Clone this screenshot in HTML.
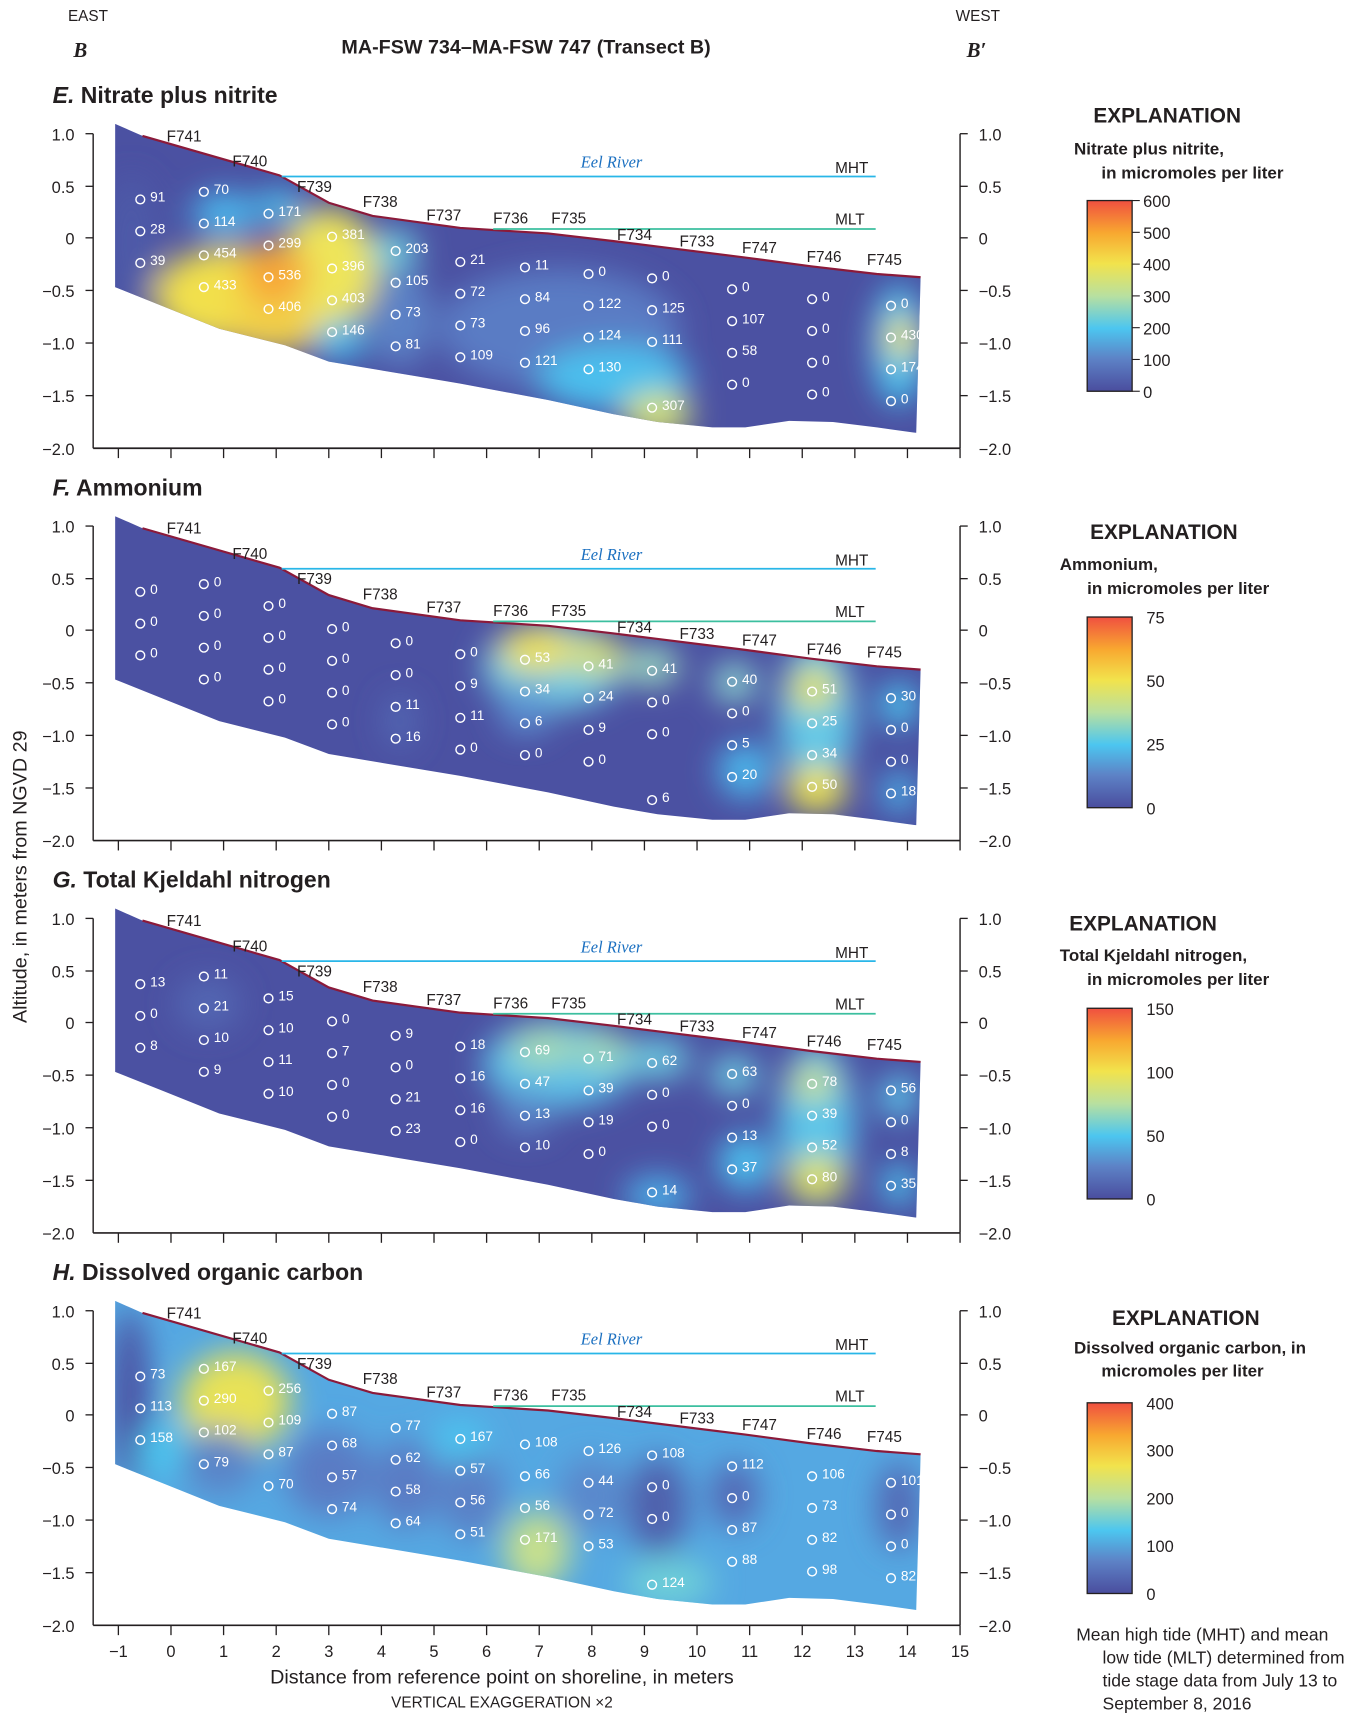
<!DOCTYPE html>
<html><head><meta charset="utf-8"><style>
html,body{margin:0;padding:0;background:#fff}
svg{display:block}
text{font-family:"Liberation Sans Narrow","Liberation Sans",sans-serif;fill:#231f20}
.t{font-size:14px}
.pt text{font-size:12.5px;fill:#fff}
.ttl{font-size:21px;font-weight:bold}
.ax{font-size:15px}
.exp{font-size:19px;font-weight:bold}
.sub{font-size:15.5px;font-weight:bold}
</style></head><body>
<svg width="1359" height="1718" viewBox="0 0 1240 1567.6" xmlns="http://www.w3.org/2000/svg">
<defs>
<clipPath id="cp"><polygon points="105,113 130,124 255,160 300,185 340,197 420,208 500,213 560,220 600,225 680,235 740,243 800,250 840,253 836,395 800,390 760,385 720,384 680,390 650,390 600,385 560,378 500,365 420,350 360,340 300,330 260,315 200,300 150,280 105,262"/></clipPath>
<filter id="bl" x="-50%" y="-50%" width="200%" height="200%"><feGaussianBlur stdDeviation="14"/></filter>
<linearGradient id="cb6" x1="0" y1="1" x2="0" y2="0">
<stop offset="0" stop-color="#4a4d9e"/><stop offset="0.17" stop-color="#5d82c6"/><stop offset="0.33" stop-color="#4cc6f0"/><stop offset="0.5" stop-color="#b8e0a0"/><stop offset="0.67" stop-color="#f2e34c"/><stop offset="0.83" stop-color="#f8a830"/><stop offset="1" stop-color="#f05040"/></linearGradient>
<g id="frame">
<line x1="85" y1="122" x2="85" y2="409" stroke="#231f20" stroke-width="1.3"/>
<line x1="876" y1="122" x2="876" y2="409" stroke="#231f20" stroke-width="1.3"/>
<line x1="85" y1="409" x2="876" y2="409" stroke="#231f20" stroke-width="1.5"/>
<g stroke="#231f20" stroke-width="1.2">
<line x1="78" y1="122" x2="85" y2="122"/><line x1="78" y1="170" x2="85" y2="170"/><line x1="78" y1="217" x2="85" y2="217"/><line x1="78" y1="265" x2="85" y2="265"/><line x1="78" y1="313" x2="85" y2="313"/><line x1="78" y1="361" x2="85" y2="361"/>
<line x1="876" y1="122" x2="883" y2="122"/><line x1="876" y1="170" x2="883" y2="170"/><line x1="876" y1="217" x2="883" y2="217"/><line x1="876" y1="265" x2="883" y2="265"/><line x1="876" y1="313" x2="883" y2="313"/><line x1="876" y1="361" x2="883" y2="361"/>
<line x1="108" y1="409" x2="108" y2="418"/><line x1="156" y1="409" x2="156" y2="418"/><line x1="204" y1="409" x2="204" y2="418"/><line x1="252" y1="409" x2="252" y2="418"/><line x1="300" y1="409" x2="300" y2="418"/><line x1="348" y1="409" x2="348" y2="418"/><line x1="396" y1="409" x2="396" y2="418"/><line x1="444" y1="409" x2="444" y2="418"/><line x1="492" y1="409" x2="492" y2="418"/><line x1="540" y1="409" x2="540" y2="418"/><line x1="588" y1="409" x2="588" y2="418"/><line x1="636" y1="409" x2="636" y2="418"/><line x1="684" y1="409" x2="684" y2="418"/><line x1="732" y1="409" x2="732" y2="418"/><line x1="780" y1="409" x2="780" y2="418"/><line x1="828" y1="409" x2="828" y2="418"/><line x1="876" y1="409" x2="876" y2="418"/>
</g>
<g class="ax" text-anchor="end">
<text x="68" y="128">1.0</text><text x="68" y="176">0.5</text><text x="68" y="223">0</text><text x="68" y="271">−0.5</text><text x="68" y="319">−1.0</text><text x="68" y="367">−1.5</text><text x="68" y="415">−2.0</text></g>
<g class="ax">
<text x="893" y="128">1.0</text><text x="893" y="176">0.5</text><text x="893" y="223">0</text><text x="893" y="271">−0.5</text><text x="893" y="319">−1.0</text><text x="893" y="367">−1.5</text><text x="893" y="415">−2.0</text></g>
</g>
<g id="over">
<polyline points="130,124 255,160 300,185 340,197 420,208 500,213 560,220 600,225 680,235 740,243 800,250 840,253" fill="none" stroke="#8b1a3a" stroke-width="2"/>
<line x1="257" y1="161" x2="799" y2="161" stroke="#29b6e8" stroke-width="1.6"/>
<line x1="450" y1="209" x2="799" y2="209" stroke="#3cbf9f" stroke-width="1.6"/>
<text x="558" y="153" text-anchor="middle" style="font-family:'Liberation Serif',serif;font-style:italic;font-size:15px;fill:#1a6fc0">Eel River</text>
<g class="t"><text x="762" y="158">MHT</text><text x="762" y="205">MLT</text>
<text x="152" y="129">F741</text><text x="212" y="152">F740</text><text x="271" y="175">F739</text><text x="331" y="189">F738</text><text x="389" y="201">F737</text><text x="450" y="204">F736</text><text x="503" y="204">F735</text><text x="563" y="219">F734</text><text x="620" y="225">F733</text><text x="677" y="231">F747</text><text x="736" y="239">F746</text><text x="791" y="242">F745</text></g>
<g fill="none" stroke="#fff" stroke-width="1.3">
<circle cx="128" cy="182" r="4"/><circle cx="128" cy="211" r="4"/><circle cx="128" cy="240" r="4"/>
<circle cx="186" cy="175" r="4"/><circle cx="186" cy="204" r="4"/><circle cx="186" cy="233" r="4"/><circle cx="186" cy="262" r="4"/>
<circle cx="245" cy="195" r="4"/><circle cx="245" cy="224" r="4"/><circle cx="245" cy="253" r="4"/><circle cx="245" cy="282" r="4"/>
<circle cx="303" cy="216" r="4"/><circle cx="303" cy="245" r="4"/><circle cx="303" cy="274" r="4"/><circle cx="303" cy="303" r="4"/>
<circle cx="361" cy="229" r="4"/><circle cx="361" cy="258" r="4"/><circle cx="361" cy="287" r="4"/><circle cx="361" cy="316" r="4"/>
<circle cx="420" cy="239" r="4"/><circle cx="420" cy="268" r="4"/><circle cx="420" cy="297" r="4"/><circle cx="420" cy="326" r="4"/>
<circle cx="479" cy="244" r="4"/><circle cx="479" cy="273" r="4"/><circle cx="479" cy="302" r="4"/><circle cx="479" cy="331" r="4"/>
<circle cx="537" cy="250" r="4"/><circle cx="537" cy="279" r="4"/><circle cx="537" cy="308" r="4"/><circle cx="537" cy="337" r="4"/>
<circle cx="595" cy="254" r="4"/><circle cx="595" cy="283" r="4"/><circle cx="595" cy="312" r="4"/><circle cx="595" cy="372" r="4"/>
<circle cx="668" cy="264" r="4"/><circle cx="668" cy="293" r="4"/><circle cx="668" cy="322" r="4"/><circle cx="668" cy="351" r="4"/>
<circle cx="741" cy="273" r="4"/><circle cx="741" cy="302" r="4"/><circle cx="741" cy="331" r="4"/><circle cx="741" cy="360" r="4"/>
<circle cx="813" cy="279" r="4"/><circle cx="813" cy="308" r="4"/><circle cx="813" cy="337" r="4"/><circle cx="813" cy="366" r="4"/>
</g>
</g>
</defs>

<!-- header -->
<text x="62" y="19" class="t" font-size="15">EAST</text>
<text x="872" y="19" class="t" font-size="15">WEST</text>
<text x="67" y="52" style="font-family:'Liberation Serif',serif;font-style:italic;font-weight:bold;font-size:19px">B</text>
<text x="882" y="52" style="font-family:'Liberation Serif',serif;font-style:italic;font-weight:bold;font-size:19px">B′</text>
<text x="480" y="49" text-anchor="middle" style="font-weight:bold;font-size:18px">MA-FSW 734–MA-FSW 747 (Transect B)</text>
<text transform="translate(24,800) rotate(-90)" text-anchor="middle" style="font-size:18px">Altitude, in meters from NGVD 29</text>

<!-- Panel E -->
<g>
<text x="48" y="94" class="ttl"><tspan font-style="italic">E.</tspan> Nitrate plus nitrite</text>
<g clip-path="url(#cp)">
<rect x="90" y="100" width="760" height="310" fill="#4b51a2"/>
<g filter="url(#bl)">
<ellipse cx="120" cy="220" rx="25" ry="60" fill="#4e5aa8"/>
<ellipse cx="205" cy="195" rx="30" ry="20" fill="#4cb8ec"/>
<ellipse cx="210" cy="270" rx="70" ry="45" fill="#f2e04c"/>
<ellipse cx="300" cy="245" rx="45" ry="55" fill="#eee55a"/>
<ellipse cx="250" cy="250" rx="32" ry="28" fill="#f7a638"/>
<ellipse cx="250" cy="300" rx="50" ry="22" fill="#f2d04a"/>
<ellipse cx="255" cy="188" rx="22" ry="14" fill="#4cc6f0"/>
<ellipse cx="360" cy="228" rx="22" ry="18" fill="#6fd0e0"/>
<ellipse cx="310" cy="310" rx="22" ry="18" fill="#4cc6f0"/>
<ellipse cx="365" cy="290" rx="30" ry="45" fill="#5b82c6"/>
<ellipse cx="510" cy="300" rx="110" ry="55" fill="#5a7cc4"/>
<ellipse cx="560" cy="345" rx="70" ry="30" fill="#4cc0ee"/>
<ellipse cx="600" cy="378" rx="32" ry="20" fill="#d6e374"/>
<ellipse cx="820" cy="315" rx="24" ry="55" fill="#4cc6f0"/>
<ellipse cx="822" cy="308" rx="14" ry="20" fill="#f2e34c"/>
</g></g>
<use href="#over"/>
<use href="#frame"/>
<g class="pt">
<text x="137" y="184">91</text><text x="137" y="213">28</text><text x="137" y="242">39</text>
<text x="195" y="177">70</text><text x="195" y="206">114</text><text x="195" y="235">454</text><text x="195" y="264">433</text>
<text x="254" y="197">171</text><text x="254" y="226">299</text><text x="254" y="255">536</text><text x="254" y="284">406</text>
<text x="312" y="218">381</text><text x="312" y="247">396</text><text x="312" y="276">403</text><text x="312" y="305">146</text>
<text x="370" y="231">203</text><text x="370" y="260">105</text><text x="370" y="289">73</text><text x="370" y="318">81</text>
<text x="429" y="241">21</text><text x="429" y="270">72</text><text x="429" y="299">73</text><text x="429" y="328">109</text>
<text x="488" y="246">11</text><text x="488" y="275">84</text><text x="488" y="304">96</text><text x="488" y="333">121</text>
<text x="546" y="252">0</text><text x="546" y="281">122</text><text x="546" y="310">124</text><text x="546" y="339">130</text>
<text x="604" y="256">0</text><text x="604" y="285">125</text><text x="604" y="314">111</text><text x="604" y="374">307</text>
<text x="677" y="266">0</text><text x="677" y="295">107</text><text x="677" y="324">58</text><text x="677" y="353">0</text>
<text x="750" y="275">0</text><text x="750" y="304">0</text><text x="750" y="333">0</text><text x="750" y="362">0</text>
<text x="822" y="281">0</text><text x="822" y="310">430</text><text x="822" y="339">174</text><text x="822" y="368">0</text>
</g>
</g>

<!-- Panel F -->
<g transform="translate(0,358)">
<text x="48" y="94" class="ttl"><tspan font-style="italic">F.</tspan> Ammonium</text>
<g clip-path="url(#cp)">
<rect x="90" y="100" width="760" height="310" fill="#4b51a2"/>
<g filter="url(#bl)">
<ellipse cx="365" cy="300" rx="15" ry="25" fill="#5368b4"/>
<ellipse cx="505" cy="250" rx="65" ry="40" fill="#6fcbe4"/>
<ellipse cx="490" cy="235" rx="35" ry="20" fill="#f0e24e"/>
<ellipse cx="545" cy="240" rx="25" ry="18" fill="#d8e070"/>
<ellipse cx="595" cy="250" rx="25" ry="18" fill="#9ad8c0"/>
<ellipse cx="480" cy="290" rx="25" ry="22" fill="#5b90d0"/>
<ellipse cx="670" cy="265" rx="20" ry="18" fill="#8dd8d0"/>
<ellipse cx="680" cy="345" rx="25" ry="25" fill="#4cb8ec"/>
<ellipse cx="745" cy="295" rx="35" ry="70" fill="#60c8e8"/>
<ellipse cx="742" cy="270" rx="22" ry="20" fill="#e4e25a"/>
<ellipse cx="745" cy="362" rx="28" ry="22" fill="#eee34e"/>
<ellipse cx="820" cy="285" rx="18" ry="20" fill="#4cc6f0"/>
<ellipse cx="820" cy="365" rx="16" ry="18" fill="#4cb8ec"/>
</g></g>
<use href="#over"/>
<use href="#frame"/>
<g class="pt">
<text x="137" y="184">0</text><text x="137" y="213">0</text><text x="137" y="242">0</text>
<text x="195" y="177">0</text><text x="195" y="206">0</text><text x="195" y="235">0</text><text x="195" y="264">0</text>
<text x="254" y="197">0</text><text x="254" y="226">0</text><text x="254" y="255">0</text><text x="254" y="284">0</text>
<text x="312" y="218">0</text><text x="312" y="247">0</text><text x="312" y="276">0</text><text x="312" y="305">0</text>
<text x="370" y="231">0</text><text x="370" y="260">0</text><text x="370" y="289">11</text><text x="370" y="318">16</text>
<text x="429" y="241">0</text><text x="429" y="270">9</text><text x="429" y="299">11</text><text x="429" y="328">0</text>
<text x="488" y="246">53</text><text x="488" y="275">34</text><text x="488" y="304">6</text><text x="488" y="333">0</text>
<text x="546" y="252">41</text><text x="546" y="281">24</text><text x="546" y="310">9</text><text x="546" y="339">0</text>
<text x="604" y="256">41</text><text x="604" y="285">0</text><text x="604" y="314">0</text><text x="604" y="374">6</text>
<text x="677" y="266">40</text><text x="677" y="295">0</text><text x="677" y="324">5</text><text x="677" y="353">20</text>
<text x="750" y="275">51</text><text x="750" y="304">25</text><text x="750" y="333">34</text><text x="750" y="362">50</text>
<text x="822" y="281">30</text><text x="822" y="310">0</text><text x="822" y="339">0</text><text x="822" y="368">18</text>
</g>
</g>

<!-- Panel G -->
<g transform="translate(0,716)">
<text x="48" y="94" class="ttl"><tspan font-style="italic">G.</tspan> Total Kjeldahl nitrogen</text>
<g clip-path="url(#cp)">
<rect x="90" y="100" width="760" height="310" fill="#4b51a2"/>
<g filter="url(#bl)">
<ellipse cx="190" cy="200" rx="30" ry="25" fill="#5366b2"/>
<ellipse cx="510" cy="255" rx="70" ry="40" fill="#5cc0e8"/>
<ellipse cx="495" cy="240" rx="30" ry="18" fill="#a8dcb0"/>
<ellipse cx="550" cy="242" rx="25" ry="18" fill="#a0dab8"/>
<ellipse cx="600" cy="250" rx="30" ry="18" fill="#6ccce0"/>
<ellipse cx="480" cy="300" rx="25" ry="20" fill="#5a82c6"/>
<ellipse cx="670" cy="265" rx="22" ry="18" fill="#6ccce0"/>
<ellipse cx="680" cy="345" rx="25" ry="25" fill="#4cc0ee"/>
<ellipse cx="600" cy="375" rx="30" ry="18" fill="#4cb0e8"/>
<ellipse cx="745" cy="310" rx="35" ry="75" fill="#58c4ea"/>
<ellipse cx="742" cy="272" rx="22" ry="18" fill="#c8e090"/>
<ellipse cx="745" cy="360" rx="28" ry="22" fill="#dfe260"/>
<ellipse cx="820" cy="285" rx="18" ry="20" fill="#5cc6ea"/>
<ellipse cx="820" cy="365" rx="16" ry="18" fill="#4cc6f0"/>
</g></g>
<use href="#over"/>
<use href="#frame"/>
<g class="pt">
<text x="137" y="184">13</text><text x="137" y="213">0</text><text x="137" y="242">8</text>
<text x="195" y="177">11</text><text x="195" y="206">21</text><text x="195" y="235">10</text><text x="195" y="264">9</text>
<text x="254" y="197">15</text><text x="254" y="226">10</text><text x="254" y="255">11</text><text x="254" y="284">10</text>
<text x="312" y="218">0</text><text x="312" y="247">7</text><text x="312" y="276">0</text><text x="312" y="305">0</text>
<text x="370" y="231">9</text><text x="370" y="260">0</text><text x="370" y="289">21</text><text x="370" y="318">23</text>
<text x="429" y="241">18</text><text x="429" y="270">16</text><text x="429" y="299">16</text><text x="429" y="328">0</text>
<text x="488" y="246">69</text><text x="488" y="275">47</text><text x="488" y="304">13</text><text x="488" y="333">10</text>
<text x="546" y="252">71</text><text x="546" y="281">39</text><text x="546" y="310">19</text><text x="546" y="339">0</text>
<text x="604" y="256">62</text><text x="604" y="285">0</text><text x="604" y="314">0</text><text x="604" y="374">14</text>
<text x="677" y="266">63</text><text x="677" y="295">0</text><text x="677" y="324">13</text><text x="677" y="353">37</text>
<text x="750" y="275">78</text><text x="750" y="304">39</text><text x="750" y="333">52</text><text x="750" y="362">80</text>
<text x="822" y="281">56</text><text x="822" y="310">0</text><text x="822" y="339">8</text><text x="822" y="368">35</text>
</g>
</g>

<!-- Panel H -->
<g transform="translate(0,1074)">
<text x="48" y="94" class="ttl"><tspan font-style="italic">H.</tspan> Dissolved organic carbon</text>
<g clip-path="url(#cp)">
<rect x="90" y="100" width="760" height="310" fill="#55a8e2"/>
<g filter="url(#bl)">
<ellipse cx="118" cy="200" rx="18" ry="80" fill="#4b51a2"/>
<ellipse cx="150" cy="250" rx="25" ry="25" fill="#4cc6f0"/>
<ellipse cx="215" cy="205" rx="50" ry="45" fill="#e8e256"/>
<ellipse cx="200" cy="260" rx="35" ry="30" fill="#5a84c8"/>
<ellipse cx="300" cy="270" rx="40" ry="40" fill="#5a7cc4"/>
<ellipse cx="370" cy="280" rx="30" ry="40" fill="#5a7cc4"/>
<ellipse cx="430" cy="290" rx="30" ry="40" fill="#5a80c6"/>
<ellipse cx="420" cy="240" rx="25" ry="18" fill="#4cc6f0"/>
<ellipse cx="490" cy="340" rx="30" ry="35" fill="#c8e08c"/>
<ellipse cx="540" cy="290" rx="30" ry="35" fill="#5a88cc"/>
<ellipse cx="600" cy="300" rx="28" ry="45" fill="#5060ac"/>
<ellipse cx="610" cy="370" rx="40" ry="22" fill="#6ed0d8"/>
<ellipse cx="670" cy="290" rx="22" ry="30" fill="#5268b4"/>
<ellipse cx="820" cy="300" rx="20" ry="40" fill="#5268b4"/>
</g></g>
<use href="#over"/>
<use href="#frame"/>
<g class="pt">
<text x="137" y="184">73</text><text x="137" y="213">113</text><text x="137" y="242">158</text>
<text x="195" y="177">167</text><text x="195" y="206">290</text><text x="195" y="235">102</text><text x="195" y="264">79</text>
<text x="254" y="197">256</text><text x="254" y="226">109</text><text x="254" y="255">87</text><text x="254" y="284">70</text>
<text x="312" y="218">87</text><text x="312" y="247">68</text><text x="312" y="276">57</text><text x="312" y="305">74</text>
<text x="370" y="231">77</text><text x="370" y="260">62</text><text x="370" y="289">58</text><text x="370" y="318">64</text>
<text x="429" y="241">167</text><text x="429" y="270">57</text><text x="429" y="299">56</text><text x="429" y="328">51</text>
<text x="488" y="246">108</text><text x="488" y="275">66</text><text x="488" y="304">56</text><text x="488" y="333">171</text>
<text x="546" y="252">126</text><text x="546" y="281">44</text><text x="546" y="310">72</text><text x="546" y="339">53</text>
<text x="604" y="256">108</text><text x="604" y="285">0</text><text x="604" y="314">0</text><text x="604" y="374">124</text>
<text x="677" y="266">112</text><text x="677" y="295">0</text><text x="677" y="324">87</text><text x="677" y="353">88</text>
<text x="750" y="275">106</text><text x="750" y="304">73</text><text x="750" y="333">82</text><text x="750" y="362">98</text>
<text x="822" y="281">101</text><text x="822" y="310">0</text><text x="822" y="339">0</text><text x="822" y="368">82</text>
</g>
<g class="ax" text-anchor="middle">
<text x="108" y="438">−1</text><text x="156" y="438">0</text><text x="204" y="438">1</text><text x="252" y="438">2</text><text x="300" y="438">3</text><text x="348" y="438">4</text><text x="396" y="438">5</text><text x="444" y="438">6</text><text x="492" y="438">7</text><text x="540" y="438">8</text><text x="588" y="438">9</text><text x="636" y="438">10</text><text x="684" y="438">11</text><text x="732" y="438">12</text><text x="780" y="438">13</text><text x="828" y="438">14</text><text x="876" y="438">15</text></g>
<text x="458" y="462" text-anchor="middle" style="font-size:18px">Distance from reference point on shoreline, in meters</text>
<text x="458" y="484" text-anchor="middle" style="font-size:14px">VERTICAL EXAGGERATION ×2</text>
</g>

<!-- Legends -->
<g>
<text x="1065" y="112" text-anchor="middle" class="exp">EXPLANATION</text>
<text x="980" y="141" class="sub">Nitrate plus nitrite,</text>
<text x="1005" y="163" class="sub">in micromoles per liter</text>
<rect x="992" y="183" width="41" height="174" fill="url(#cb6)" stroke="#231f20" stroke-width="1.2"/>
<g stroke="#231f20" stroke-width="1"><line x1="1033" y1="183" x2="1040" y2="183"/><line x1="1033" y1="212" x2="1040" y2="212"/><line x1="1033" y1="241" x2="1040" y2="241"/><line x1="1033" y1="270" x2="1040" y2="270"/><line x1="1033" y1="299" x2="1040" y2="299"/><line x1="1033" y1="328" x2="1040" y2="328"/><line x1="1033" y1="357" x2="1040" y2="357"/></g>
<g class="ax"><text x="1043" y="189">600</text><text x="1043" y="218">500</text><text x="1043" y="247">400</text><text x="1043" y="276">300</text><text x="1043" y="305">200</text><text x="1043" y="334">100</text><text x="1043" y="363">0</text></g>
</g>
<g transform="translate(0,380)">
<text x="1062" y="112" text-anchor="middle" class="exp">EXPLANATION</text>
<text x="967" y="140" class="sub">Ammonium,</text>
<text x="992" y="162" class="sub">in micromoles per liter</text>
<rect x="992" y="183" width="41" height="174" fill="url(#cb6)" stroke="#231f20" stroke-width="1.2"/>
<g class="ax"><text x="1046" y="189">75</text><text x="1046" y="247">50</text><text x="1046" y="305">25</text><text x="1046" y="363">0</text></g>
</g>
<g transform="translate(0,737)">
<text x="1043" y="112" text-anchor="middle" class="exp">EXPLANATION</text>
<text x="967" y="140" class="sub">Total Kjeldahl nitrogen,</text>
<text x="992" y="162" class="sub">in micromoles per liter</text>
<rect x="992" y="183" width="41" height="174" fill="url(#cb6)" stroke="#231f20" stroke-width="1.2"/>
<g class="ax"><text x="1046" y="189">150</text><text x="1046" y="247">100</text><text x="1046" y="305">50</text><text x="1046" y="363">0</text></g>
</g>
<g transform="translate(0,1097)">
<text x="1082" y="112" text-anchor="middle" class="exp">EXPLANATION</text>
<text x="980" y="138" class="sub">Dissolved organic carbon, in</text>
<text x="1005" y="159" class="sub">micromoles per liter</text>
<rect x="992" y="183" width="41" height="174" fill="url(#cb6)" stroke="#231f20" stroke-width="1.2"/>
<g class="ax"><text x="1046" y="189">400</text><text x="1046" y="232">300</text><text x="1046" y="276">200</text><text x="1046" y="319">100</text><text x="1046" y="363">0</text></g>
</g>
<g style="font-size:16px">
<text x="982" y="1497">Mean high tide (MHT) and mean</text>
<text x="1006" y="1518">low tide (MLT) determined from</text>
<text x="1006" y="1539">tide stage data from July 13 to</text>
<text x="1006" y="1560">September 8, 2016</text>
</g>
</svg>
</body></html>
